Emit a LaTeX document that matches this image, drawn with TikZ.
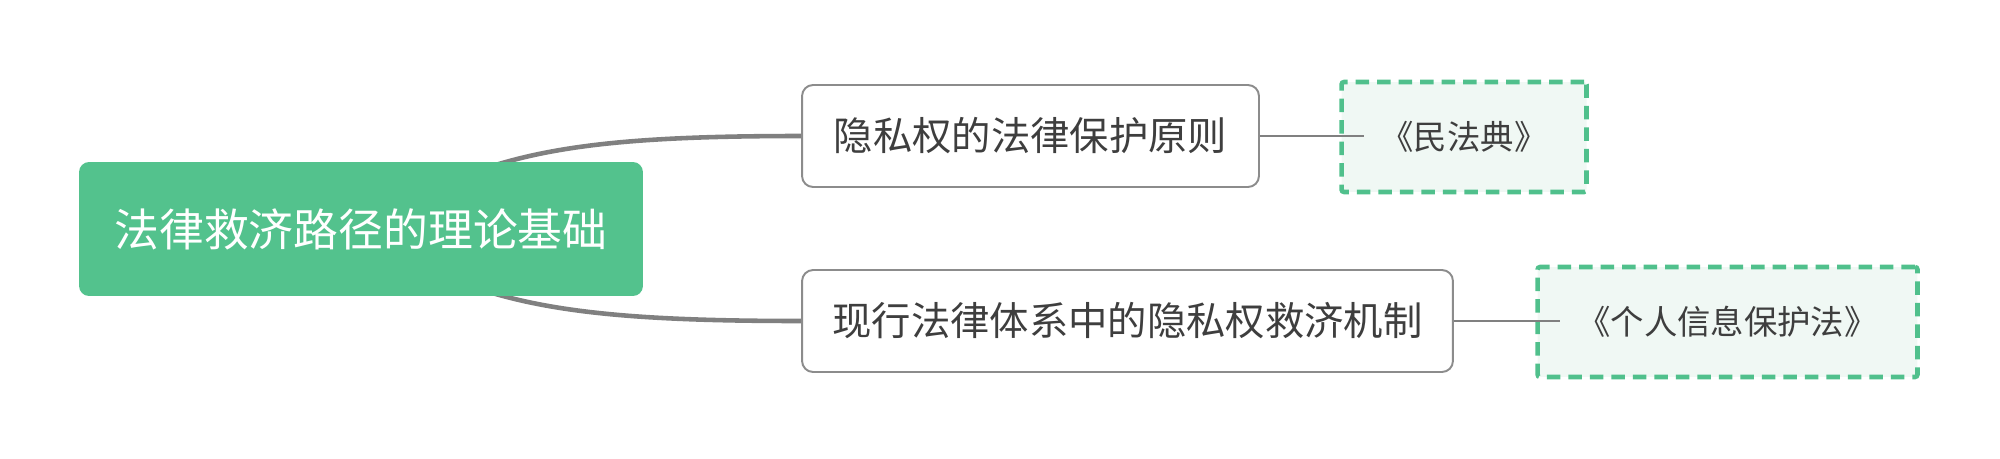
\documentclass[tikz,border=0pt]{standalone}
\usepackage{fontspec}
\setmainfont{Noto Sans CJK SC}
\usepackage{tikz}
\usetikzlibrary{
    positioning,
    backgrounds
}

\definecolor{rootgreen}{RGB}{83,194,141}
\definecolor{leafgreen}{RGB}{80,192,140}
\definecolor{leaffill}{RGB}{240,248,244}
\definecolor{linegray}{RGB}{128,128,128}
\definecolor{framegray}{RGB}{140,140,140}
\definecolor{textgray}{RGB}{62,62,62}

\begin{document}
\begin{tikzpicture}[x=0.02cm,y=0.02cm,
    rootbox/.style={fill=rootgreen, text=white, rounded corners=0.2cm,
        inner sep=0pt, minimum height=2.68cm,
        font=\fontsize{25.5pt}{30pt}\selectfont},
    topicbox/.style={draw=framegray, line width=1.1pt, fill=white,
        text=textgray, rounded corners=0.22cm, inner sep=0pt,
        minimum height=2.04cm, font=\fontsize{22.4pt}{27pt}\selectfont},
    notebox/.style={draw=leafgreen, line width=2.6pt, fill=leaffill,
        dash pattern=on 0.27cm off 0.16cm, rounded corners=0.05cm,
        text=textgray, inner sep=0pt, minimum height=2.2cm,
        font=\fontsize{19pt}{23pt}\selectfont},
    branch/.style={draw=linegray, line width=2.6pt},
    twig/.style={draw=linegray, line width=1.1pt}
]

\useasboundingbox (0,0) rectangle (2000,458);

% Root
\node[rootbox, minimum width=11.28cm] (root) at (361,229)
    {法律救济路径的理论基础};

% Topics
\node[topicbox, minimum width=9.14cm] (n1) at (1030.5,322)
    {隐私权的法律保护原则};
\node[topicbox, minimum width=13.02cm] (n2) at (1127.5,137)
    {现行法律体系中的隐私权救济机制};

% Notes
\node[notebox, minimum width=4.9cm] (law1) at (1464,321)
    {《民法典》};
\node[notebox, minimum width=7.6cm] (law2) at (1727.5,136)
    {《个人信息保护法》};

% Branches
\begin{scope}[on background layer]
\draw[branch] (root.center) .. controls (480,303) and (560,322) .. (n1.west);
\draw[branch] (root.center) .. controls (470,155) and (560,137) .. (n2.west);
\end{scope}

% Twigs
\draw[twig] (n1.east) -- ([xshift=0.5cm]n1.east -| law1.west);
\draw[twig] (n2.east) -- ([xshift=0.5cm]n2.east -| law2.west);

\end{tikzpicture}
\end{document}
